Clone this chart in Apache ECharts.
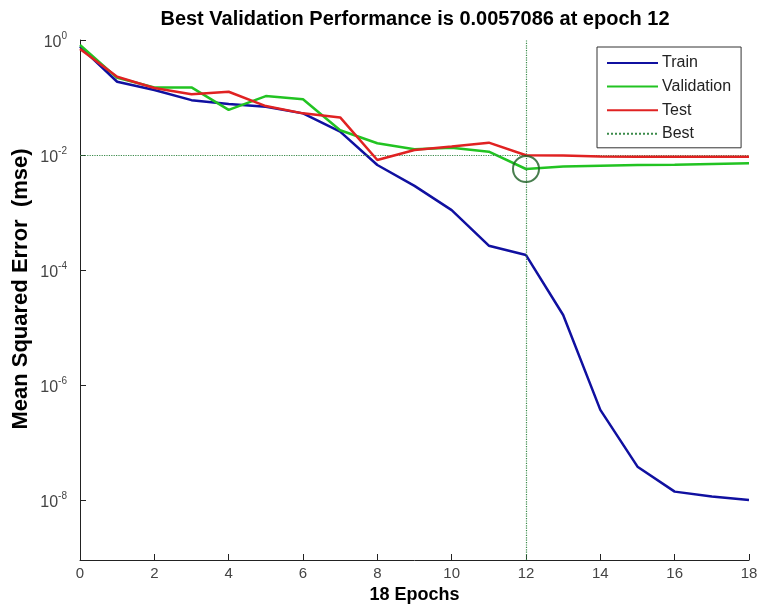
<!DOCTYPE html>
<html>
<head>
<meta charset="utf-8">
<script src="https://cdn.jsdelivr.net/npm/echarts@6/dist/echarts.min.js"></script>
<style>
  html, body { margin: 0; padding: 0; background: #fff; }
  #chart { width: 758px; height: 609px; }
</style>
</head>
<body>
<div id="chart"></div>
<script>
// epochs 0..18
var epochs = [0, 1, 2, 3, 4, 5, 6, 7, 8, 9, 10, 11, 12, 13, 14, 15, 16, 17, 18]
var trainMse = [0.77, 0.188, 0.135, 0.09, 0.077, 0.069, 0.053, 0.0255, 0.0067, 0.0029, 0.0011, 2.65e-4, 1.82e-4, 1.65e-5, 3.7e-7, 3.8e-8, 1.4e-8, 1.15e-8, 1.0e-8]
var validMse = [0.82, 0.22, 0.15, 0.15, 0.061, 0.106, 0.093, 0.027, 0.016, 0.0126, 0.0134, 0.0114, 0.0057086, 0.0063, 0.0065, 0.0067, 0.0068, 0.0070, 0.0072]
var testMse = [0.7, 0.23, 0.146, 0.114, 0.126, 0.071, 0.053, 0.045, 0.0082, 0.0122, 0.014, 0.0164, 0.0099, 0.0098, 0.0094, 0.0093, 0.0093, 0.0093, 0.0093]
var bestEpoch = 12
var bestValue = 0.0057086
var yTicks = [1, 1e-2, 1e-4, 1e-6, 1e-8]

function pairs(vals) {
  return vals.map(function (v, i) { return [epochs[i], v] })
}

function expLabel(v) {
  var e = Math.round(Math.log10(v))
  return '{b|10}{s|' + e + '}'
}

var chart = echarts.init(document.getElementById('chart'))
var option = {
  animation: false,
  backgroundColor: '#fff',
  title: {
    text: 'Best Validation Performance is 0.0057086 at epoch 12',
    left: 410,
    textAlign: 'center',
    top: 4,
    textStyle: { fontFamily: 'Liberation Sans', fontWeight: 'bold', fontSize: 20, color: '#000' }
  },
  legend: {
    orient: 'vertical',
    left: 597,
    top: 47,
    padding: [8, 10, 6, 9],
    itemGap: 7.6,
    itemWidth: 51,
    itemHeight: 14,
    borderColor: '#333',
    borderWidth: 1,
    backgroundColor: '#fff',
    itemStyle: { color: 'rgba(0,0,0,0)', borderWidth: 0 },
    textStyle: { fontFamily: 'Liberation Sans', fontSize: 16, color: '#222', padding: [0, 0, 0, -1] },
    data: ['Train', 'Validation', 'Test', 'Best']
  },
  grid: { left: 80, right: 9, top: 40, bottom: 49, outerBoundsMode: 'none' },
  xAxis: {
    type: 'value',
    min: 0,
    max: 18,
    interval: 2,
    name: '18 Epochs',
    nameLocation: 'middle',
    nameGap: 25,
    nameTextStyle: { fontFamily: 'Liberation Sans', fontWeight: 'bold', fontSize: 18, color: '#000' },
    axisLine: { lineStyle: { color: '#222', width: 1 } },
    axisTick: { inside: false, length: -6, lineStyle: { color: '#222' } },
    axisLabel: { fontFamily: 'Liberation Sans', fontSize: 15, color: '#444', margin: 6 },
    splitLine: { show: false }
  },
  yAxis: {
    type: 'log',
    logBase: 10,
    min: Math.pow(10, -9.043),
    max: 1,
    name: 'Mean Squared Error  (mse)',
    nameLocation: 'middle',
    nameGap: 48,
    nameMoveOverlap: false,
    nameTextStyle: { fontFamily: 'Liberation Sans', fontWeight: 'bold', fontSize: 22, color: '#000', padding: [0, 0, 0, 22] },
    axisLine: { show: true, lineStyle: { color: '#222', width: 1 } },
    axisTick: { inside: false, length: -6, lineStyle: { color: '#222' }, customValues: yTicks },
    axisLabel: {
      customValues: yTicks,
      margin: 13,
      formatter: expLabel,
      rich: {
        b: { fontFamily: 'Liberation Sans', fontSize: 16, color: '#444', padding: [6, 0, 0, 0] },
        s: { fontFamily: 'Liberation Sans', fontSize: 10, color: '#444', padding: [0, 0, 7, 0] }
      }
    },
    splitLine: { show: false },
    minorTick: { show: false }
  },
  series: [
    {
      name: 'Train',
      type: 'line',
      data: pairs(trainMse),
      symbol: 'none',
      lineStyle: { color: '#1010a0', width: 2.5 },
      itemStyle: { color: '#1010a0' },
      z: 3
    },
    {
      name: 'Validation',
      type: 'line',
      data: pairs(validMse),
      symbol: 'none',
      lineStyle: { color: '#22c322', width: 2.5 },
      itemStyle: { color: '#22c322' },
      z: 4
    },
    {
      name: 'Test',
      type: 'line',
      data: pairs(testMse),
      symbol: 'none',
      lineStyle: { color: '#e02222', width: 2.5 },
      itemStyle: { color: '#e02222' },
      z: 5
    },
    {
      name: 'Best',
      type: 'line',
      data: [],
      symbol: 'none',
      lineStyle: { color: '#3a8a4a', width: 1.2, type: 'dotted' },
      itemStyle: { color: '#3a8a4a' },
      markLine: {
        silent: true,
        symbol: 'none',
        label: { show: false },
        lineStyle: { color: '#3a8a4a', width: 1.2, type: 'dotted' },
        data: [{ yAxis: bestValue }, { xAxis: bestEpoch }]
      },
      z: 2
    },
    {
      name: 'BestPoint',
      type: 'scatter',
      data: [[bestEpoch, bestValue]],
      symbol: 'circle',
      symbolSize: 26,
      itemStyle: { color: 'rgba(0,0,0,0)', borderColor: '#1a5e22', borderWidth: 2 },
      z: 6
    }
  ]
}
chart.setOption(option)
</script>
</body>
</html>
